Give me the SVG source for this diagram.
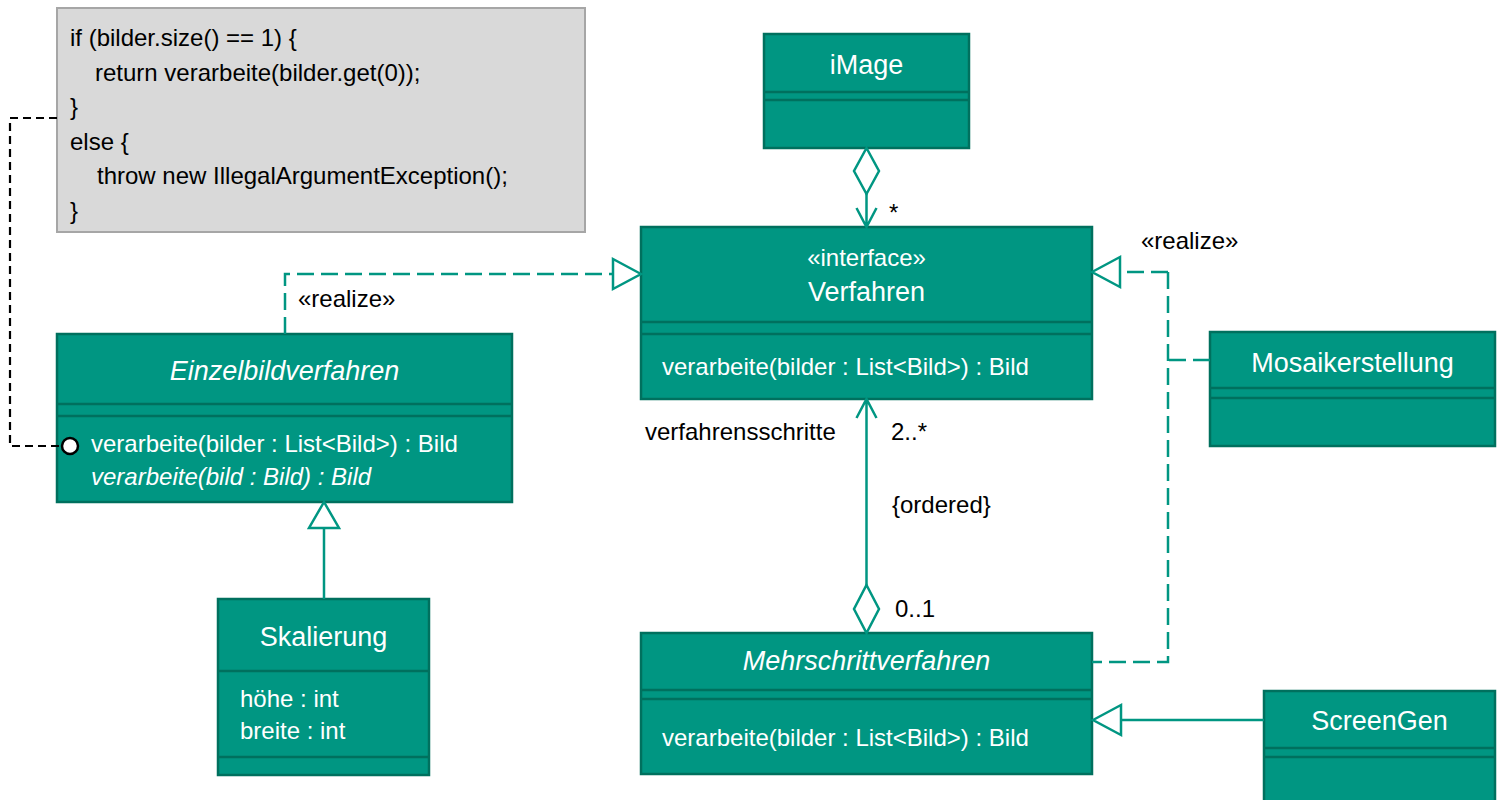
<svg xmlns="http://www.w3.org/2000/svg" width="1504" height="800" viewBox="0 0 1504 800">
<style>
.box{fill:#009682;stroke:#00705e;stroke-width:2.5}
.sep{stroke:#00705e;stroke-width:2.5}
.name{font-family:"Liberation Sans",Arial,sans-serif;font-size:27px;fill:#ffffff;text-anchor:middle}
.mem{font-family:"Liberation Sans",Arial,sans-serif;font-size:24px;fill:#ffffff}
.it{font-style:italic}
.lbl{font-family:"Liberation Sans",Arial,sans-serif;font-size:24px;fill:#000000}
.note{font-family:"Liberation Sans",Arial,sans-serif;font-size:24px;fill:#000000}
.con{fill:none;stroke:#009682;stroke-width:2.5}
.dash{stroke-dasharray:17,7}
.head{fill:#ffffff;stroke:#009682;stroke-width:2.5}
</style>
<g id="note">
<rect x="57" y="8" width="528" height="224" fill="#d9d9d9" stroke="#a6a6a6" stroke-width="2"/>
<text class="note" x="70" y="46">if (bilder.size() == 1) {</text>
<text class="note" x="95" y="80.6">return verarbeite(bilder.get(0));</text>
<text class="note" x="70" y="115.2">}</text>
<text class="note" x="70" y="149.8">else {</text>
<text class="note" x="97" y="184.4">throw new IllegalArgumentException();</text>
<text class="note" x="70" y="219">}</text>
</g>
<g id="iMage">
<rect class="box" x="764" y="34" width="205" height="114"/>
<line class="sep" x1="764" y1="92" x2="969" y2="92"/>
<line class="sep" x1="764" y1="100" x2="969" y2="100"/>
<text class="name" x="866.5" y="74">iMage</text>
</g>
<g id="Verfahren">
<rect class="box" x="641" y="227" width="451" height="172"/>
<line class="sep" x1="641" y1="322" x2="1092" y2="322"/>
<line class="sep" x1="641" y1="334" x2="1092" y2="334"/>
<text class="name" x="866.5" y="266" style="font-size:24px">«interface»</text>
<text class="name" x="866.5" y="301">Verfahren</text>
<text class="mem" x="662" y="375">verarbeite(bilder : List&lt;Bild&gt;) : Bild</text>
</g>
<g id="Einzelbildverfahren">
<rect class="box" x="57" y="334" width="455" height="168"/>
<line class="sep" x1="57" y1="404" x2="512" y2="404"/>
<line class="sep" x1="57" y1="416" x2="512" y2="416"/>
<text class="name it" x="284.5" y="380">Einzelbildverfahren</text>
<text class="mem" x="91" y="452">verarbeite(bilder : List&lt;Bild&gt;) : Bild</text>
<text class="mem it" x="91" y="485">verarbeite(bild : Bild) : Bild</text>
</g>
<g id="Skalierung">
<rect class="box" x="218" y="599" width="211" height="176"/>
<line class="sep" x1="218" y1="671" x2="429" y2="671"/>
<line class="sep" x1="218" y1="757" x2="429" y2="757"/>
<text class="name" x="323.5" y="646">Skalierung</text>
<text class="mem" x="240" y="707">höhe : int</text>
<text class="mem" x="240" y="739">breite : int</text>
</g>
<g id="Mehrschrittverfahren">
<rect class="box" x="641" y="633" width="451" height="141"/>
<line class="sep" x1="641" y1="690" x2="1092" y2="690"/>
<line class="sep" x1="641" y1="699" x2="1092" y2="699"/>
<text class="name it" x="866.5" y="670">Mehrschrittverfahren</text>
<text class="mem" x="662" y="746">verarbeite(bilder : List&lt;Bild&gt;) : Bild</text>
</g>
<g id="Mosaikerstellung">
<rect class="box" x="1210" y="332" width="285" height="114"/>
<line class="sep" x1="1210" y1="388" x2="1495" y2="388"/>
<line class="sep" x1="1210" y1="398" x2="1495" y2="398"/>
<text class="name" x="1352.5" y="372">Mosaikerstellung</text>
</g>
<g id="ScreenGen">
<rect class="box" x="1264" y="691" width="231" height="120"/>
<line class="sep" x1="1264" y1="748" x2="1495" y2="748"/>
<line class="sep" x1="1264" y1="757" x2="1495" y2="757"/>
<text class="name" x="1379.5" y="730">ScreenGen</text>
</g>
<g id="connectors">
<path d="M57,118 H10 V446 H62" fill="none" stroke="#000" stroke-width="2.2" stroke-dasharray="8,5"/>
<circle cx="70" cy="446" r="8" fill="#fff" stroke="#000" stroke-width="2.5"/>
<path class="con dash" d="M285,334 V274 H613"/>
<polygon class="head" points="641,274 613,259 613,289"/>
<path class="con" d="M866.5,194 V227 M856.5,208 L866.5,227 L876.5,208"/>
<polygon class="head" points="866.5,148 879,171 866.5,194 854,171"/>
<path class="con" d="M866.5,585 V399 M856.5,418 L866.5,399 L876.5,418"/>
<polygon class="head" points="866.5,585 879,609 866.5,633 854,609"/>
<path class="con" d="M324,599 V528"/>
<polygon class="head" points="324,502 309,528 339,528"/>
<path class="con dash" d="M1210,360 H1168 M1168,272 V662 H1092 M1168,272 H1120"/>
<polygon class="head" points="1092,272 1120,257 1120,287"/>
<path class="con" d="M1264,720 H1121"/>
<polygon class="head" points="1093,720 1121,705 1121,735"/>
<text class="lbl" x="298" y="307">«realize»</text>
<text class="lbl" x="1141" y="249">«realize»</text>
<text class="lbl" x="889" y="221">*</text>
<text class="lbl" x="645" y="440">verfahrensschritte</text>
<text class="lbl" x="891" y="440">2..*</text>
<text class="lbl" x="892" y="513">{ordered}</text>
<text class="lbl" x="895" y="617">0..1</text>
</g>
</svg>
